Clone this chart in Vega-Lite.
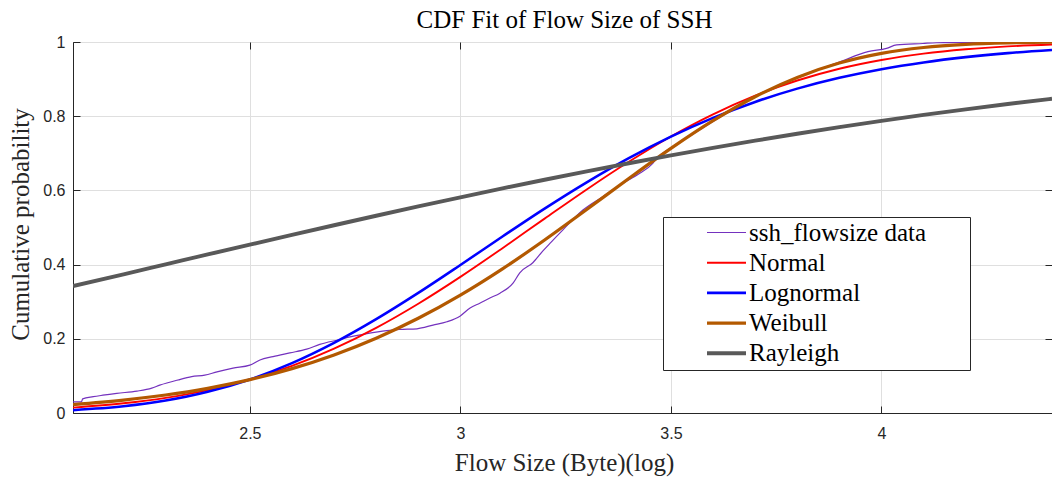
{
  "$schema": "https://vega.github.io/schema/vega-lite/v6.json",
  "width": 979,
  "height": 371,
  "autosize": {"type": "none"},
  "padding": {"left": 73, "top": 42, "right": 0, "bottom": 64},
  "background": "white",
  "config": {"view": {"stroke": "#262626", "strokeWidth": 1}},
  "datasets": {
    "curves": [
      {"x": 2.080, "p": 0.030, "series": "ssh_flowsize data"},
      {"x": 2.100, "p": 0.030, "series": "ssh_flowsize data"},
      {"x": 2.103, "p": 0.038, "series": "ssh_flowsize data"},
      {"x": 2.128, "p": 0.044, "series": "ssh_flowsize data"},
      {"x": 2.151, "p": 0.048, "series": "ssh_flowsize data"},
      {"x": 2.184, "p": 0.053, "series": "ssh_flowsize data"},
      {"x": 2.232, "p": 0.059, "series": "ssh_flowsize data"},
      {"x": 2.267, "p": 0.067, "series": "ssh_flowsize data"},
      {"x": 2.286, "p": 0.075, "series": "ssh_flowsize data"},
      {"x": 2.329, "p": 0.089, "series": "ssh_flowsize data"},
      {"x": 2.362, "p": 0.098, "series": "ssh_flowsize data"},
      {"x": 2.393, "p": 0.102, "series": "ssh_flowsize data"},
      {"x": 2.422, "p": 0.111, "series": "ssh_flowsize data"},
      {"x": 2.460, "p": 0.121, "series": "ssh_flowsize data"},
      {"x": 2.500, "p": 0.129, "series": "ssh_flowsize data"},
      {"x": 2.524, "p": 0.143, "series": "ssh_flowsize data"},
      {"x": 2.555, "p": 0.152, "series": "ssh_flowsize data"},
      {"x": 2.595, "p": 0.162, "series": "ssh_flowsize data"},
      {"x": 2.635, "p": 0.172, "series": "ssh_flowsize data"},
      {"x": 2.666, "p": 0.185, "series": "ssh_flowsize data"},
      {"x": 2.714, "p": 0.198, "series": "ssh_flowsize data"},
      {"x": 2.738, "p": 0.205, "series": "ssh_flowsize data"},
      {"x": 2.778, "p": 0.214, "series": "ssh_flowsize data"},
      {"x": 2.825, "p": 0.222, "series": "ssh_flowsize data"},
      {"x": 2.856, "p": 0.225, "series": "ssh_flowsize data"},
      {"x": 2.897, "p": 0.227, "series": "ssh_flowsize data"},
      {"x": 2.935, "p": 0.237, "series": "ssh_flowsize data"},
      {"x": 2.968, "p": 0.246, "series": "ssh_flowsize data"},
      {"x": 2.999, "p": 0.261, "series": "ssh_flowsize data"},
      {"x": 3.023, "p": 0.283, "series": "ssh_flowsize data"},
      {"x": 3.046, "p": 0.296, "series": "ssh_flowsize data"},
      {"x": 3.070, "p": 0.310, "series": "ssh_flowsize data"},
      {"x": 3.094, "p": 0.323, "series": "ssh_flowsize data"},
      {"x": 3.125, "p": 0.350, "series": "ssh_flowsize data"},
      {"x": 3.141, "p": 0.378, "series": "ssh_flowsize data"},
      {"x": 3.172, "p": 0.405, "series": "ssh_flowsize data"},
      {"x": 3.196, "p": 0.437, "series": "ssh_flowsize data"},
      {"x": 3.215, "p": 0.460, "series": "ssh_flowsize data"},
      {"x": 3.243, "p": 0.493, "series": "ssh_flowsize data"},
      {"x": 3.291, "p": 0.547, "series": "ssh_flowsize data"},
      {"x": 3.338, "p": 0.583, "series": "ssh_flowsize data"},
      {"x": 3.386, "p": 0.619, "series": "ssh_flowsize data"},
      {"x": 3.426, "p": 0.646, "series": "ssh_flowsize data"},
      {"x": 3.457, "p": 0.673, "series": "ssh_flowsize data"},
      {"x": 3.467, "p": 0.687, "series": "ssh_flowsize data"},
      {"x": 3.500, "p": 0.715, "series": "ssh_flowsize data"},
      {"x": 3.550, "p": 0.750, "series": "ssh_flowsize data"},
      {"x": 3.600, "p": 0.786, "series": "ssh_flowsize data"},
      {"x": 3.700, "p": 0.852, "series": "ssh_flowsize data"},
      {"x": 3.800, "p": 0.905, "series": "ssh_flowsize data"},
      {"x": 3.900, "p": 0.946, "series": "ssh_flowsize data"},
      {"x": 3.968, "p": 0.974, "series": "ssh_flowsize data"},
      {"x": 4.012, "p": 0.983, "series": "ssh_flowsize data"},
      {"x": 4.036, "p": 0.992, "series": "ssh_flowsize data"},
      {"x": 4.098, "p": 0.996, "series": "ssh_flowsize data"},
      {"x": 4.131, "p": 0.998, "series": "ssh_flowsize data"},
      {"x": 4.200, "p": 0.999, "series": "ssh_flowsize data"},
      {"x": 4.405, "p": 1.000, "series": "ssh_flowsize data"},

      {"x": 2.08, "p": 0.0146, "series": "Normal"},
      {"x": 2.2, "p": 0.0262, "series": "Normal"},
      {"x": 2.3, "p": 0.0409, "series": "Normal"},
      {"x": 2.4, "p": 0.0618, "series": "Normal"},
      {"x": 2.5, "p": 0.0901, "series": "Normal"},
      {"x": 2.6, "p": 0.1271, "series": "Normal"},
      {"x": 2.7, "p": 0.1736, "series": "Normal"},
      {"x": 2.8, "p": 0.2296, "series": "Normal"},
      {"x": 2.9, "p": 0.2946, "series": "Normal"},
      {"x": 3.0, "p": 0.3669, "series": "Normal"},
      {"x": 3.1, "p": 0.4443, "series": "Normal"},
      {"x": 3.2, "p": 0.5239, "series": "Normal"},
      {"x": 3.3, "p": 0.6026, "series": "Normal"},
      {"x": 3.4, "p": 0.6772, "series": "Normal"},
      {"x": 3.5, "p": 0.7454, "series": "Normal"},
      {"x": 3.6, "p": 0.8051, "series": "Normal"},
      {"x": 3.7, "p": 0.8554, "series": "Normal"},
      {"x": 3.8, "p": 0.8962, "series": "Normal"},
      {"x": 3.9, "p": 0.9279, "series": "Normal"},
      {"x": 4.0, "p": 0.9515, "series": "Normal"},
      {"x": 4.1, "p": 0.9686, "series": "Normal"},
      {"x": 4.2, "p": 0.9803, "series": "Normal"},
      {"x": 4.3, "p": 0.9881, "series": "Normal"},
      {"x": 4.405, "p": 0.9932, "series": "Normal"},

      {"x": 2.08, "p": 0.0076, "series": "Lognormal"},
      {"x": 2.2, "p": 0.0180, "series": "Lognormal"},
      {"x": 2.3, "p": 0.0334, "series": "Lognormal"},
      {"x": 2.4, "p": 0.0571, "series": "Lognormal"},
      {"x": 2.5, "p": 0.0905, "series": "Lognormal"},
      {"x": 2.6, "p": 0.1346, "series": "Lognormal"},
      {"x": 2.7, "p": 0.1892, "series": "Lognormal"},
      {"x": 2.8, "p": 0.2530, "series": "Lognormal"},
      {"x": 2.9, "p": 0.3238, "series": "Lognormal"},
      {"x": 3.0, "p": 0.3990, "series": "Lognormal"},
      {"x": 3.1, "p": 0.4757, "series": "Lognormal"},
      {"x": 3.2, "p": 0.5509, "series": "Lognormal"},
      {"x": 3.3, "p": 0.6217, "series": "Lognormal"},
      {"x": 3.4, "p": 0.6869, "series": "Lognormal"},
      {"x": 3.5, "p": 0.7451, "series": "Lognormal"},
      {"x": 3.6, "p": 0.7956, "series": "Lognormal"},
      {"x": 3.7, "p": 0.8384, "series": "Lognormal"},
      {"x": 3.8, "p": 0.8743, "series": "Lognormal"},
      {"x": 3.9, "p": 0.9034, "series": "Lognormal"},
      {"x": 4.0, "p": 0.9267, "series": "Lognormal"},
      {"x": 4.1, "p": 0.9450, "series": "Lognormal"},
      {"x": 4.2, "p": 0.9592, "series": "Lognormal"},
      {"x": 4.3, "p": 0.9700, "series": "Lognormal"},
      {"x": 4.405, "p": 0.9785, "series": "Lognormal"},

      {"x": 2.08, "p": 0.0227, "series": "Weibull"},
      {"x": 2.2, "p": 0.0347, "series": "Weibull"},
      {"x": 2.3, "p": 0.0485, "series": "Weibull"},
      {"x": 2.4, "p": 0.0666, "series": "Weibull"},
      {"x": 2.5, "p": 0.0899, "series": "Weibull"},
      {"x": 2.6, "p": 0.1196, "series": "Weibull"},
      {"x": 2.7, "p": 0.1566, "series": "Weibull"},
      {"x": 2.8, "p": 0.2016, "series": "Weibull"},
      {"x": 2.9, "p": 0.2553, "series": "Weibull"},
      {"x": 3.0, "p": 0.3177, "series": "Weibull"},
      {"x": 3.1, "p": 0.3885, "series": "Weibull"},
      {"x": 3.2, "p": 0.4663, "series": "Weibull"},
      {"x": 3.3, "p": 0.5485, "series": "Weibull"},
      {"x": 3.4, "p": 0.6321, "series": "Weibull"},
      {"x": 3.5, "p": 0.7133, "series": "Weibull"},
      {"x": 3.6, "p": 0.7880, "series": "Weibull"},
      {"x": 3.7, "p": 0.8525, "series": "Weibull"},
      {"x": 3.8, "p": 0.9046, "series": "Weibull"},
      {"x": 3.9, "p": 0.9432, "series": "Weibull"},
      {"x": 4.0, "p": 0.9693, "series": "Weibull"},
      {"x": 4.1, "p": 0.9852, "series": "Weibull"},
      {"x": 4.2, "p": 0.9937, "series": "Weibull"},
      {"x": 4.3, "p": 0.9977, "series": "Weibull"},
      {"x": 4.405, "p": 0.9993, "series": "Weibull"},

      {"x": 2.08, "p": 0.3420, "series": "Rayleigh"},
      {"x": 2.2, "p": 0.3739, "series": "Rayleigh"},
      {"x": 2.3, "p": 0.4006, "series": "Rayleigh"},
      {"x": 2.4, "p": 0.4273, "series": "Rayleigh"},
      {"x": 2.5, "p": 0.4538, "series": "Rayleigh"},
      {"x": 2.6, "p": 0.4801, "series": "Rayleigh"},
      {"x": 2.7, "p": 0.5061, "series": "Rayleigh"},
      {"x": 2.8, "p": 0.5317, "series": "Rayleigh"},
      {"x": 2.9, "p": 0.5568, "series": "Rayleigh"},
      {"x": 3.0, "p": 0.5814, "series": "Rayleigh"},
      {"x": 3.1, "p": 0.6054, "series": "Rayleigh"},
      {"x": 3.2, "p": 0.6287, "series": "Rayleigh"},
      {"x": 3.3, "p": 0.6514, "series": "Rayleigh"},
      {"x": 3.4, "p": 0.6732, "series": "Rayleigh"},
      {"x": 3.5, "p": 0.6943, "series": "Rayleigh"},
      {"x": 3.6, "p": 0.7146, "series": "Rayleigh"},
      {"x": 3.7, "p": 0.7341, "series": "Rayleigh"},
      {"x": 3.8, "p": 0.7527, "series": "Rayleigh"},
      {"x": 3.9, "p": 0.7705, "series": "Rayleigh"},
      {"x": 4.0, "p": 0.7873, "series": "Rayleigh"},
      {"x": 4.1, "p": 0.8034, "series": "Rayleigh"},
      {"x": 4.2, "p": 0.8185, "series": "Rayleigh"},
      {"x": 4.3, "p": 0.8329, "series": "Rayleigh"},
      {"x": 4.405, "p": 0.8470, "series": "Rayleigh"}
    ]
  },
  "data": {"name": "curves"},
  "resolve": {"axis": {"x": "independent", "y": "independent"}},
  "layer": [
    {
      "mark": {"type": "line", "interpolate": "monotone", "clip": true},
      "encoding": {
        "x": {"field": "x", "type": "quantitative", "scale": {"domain": [2.08, 4.405], "nice": false, "zero": false},
          "axis": {"orient": "bottom", "values": [2.5, 3, 3.5, 4], "format": "~g", "grid": true, "gridColor": "#dfdfdf", "gridWidth": 1,
            "domainColor": "#262626", "tickColor": "#262626", "tickSize": -7, "labelPadding": 19,
            "labelFont": "Liberation Sans", "labelFontSize": 16, "labelColor": "#262626", "labelBaseline": "top",
            "title": "Flow Size (Byte)(log)", "titleFont": "Liberation Serif", "titleFontSize": 25, "titleFontWeight": "normal", "titleColor": "#262626",
            "titleX": 491, "titleY": 57, "titleBaseline": "alphabetic", "titleAnchor": "middle", "titleAlign": "center"}},
        "y": {"field": "p", "type": "quantitative", "scale": {"domain": [0, 1], "nice": false},
          "axis": {"orient": "left", "values": [0, 0.2, 0.4, 0.6, 0.8, 1], "format": "~g", "grid": true, "gridColor": "#dfdfdf", "gridWidth": 1,
            "domainColor": "#262626", "tickColor": "#262626", "tickSize": -7, "labelPadding": 15,
            "labelFont": "Liberation Sans", "labelFontSize": 16, "labelColor": "#262626",
            "title": "Cumulative probability", "titleFont": "Liberation Serif", "titleFontSize": 25, "titleFontWeight": "normal", "titleColor": "#262626",
            "titleX": -45, "titleY": 182, "titleAngle": -90, "titleBaseline": "alphabetic", "titleAlign": "center"}},
        "color": {"field": "series", "type": "nominal",
          "scale": {"domain": ["ssh_flowsize data", "Normal", "Lognormal", "Weibull", "Rayleigh"], "range": ["#7432BE", "#FF0000", "#0000FF", "#B35900", "#595959"]},
          "legend": {"orient": "none", "legendX": 590, "legendY": 175, "title": null, "labelFont": "Liberation Serif", "labelFontSize": 25, "labelColor": "#000000", "labelLimit": 500,
            "symbolType": "M -1.95 0 L 1.95 0 M 23.2 0 L 23.2 0", "symbolSize": 400, "symbolOffset": 48, "labelOffset": 10, "padding": 3, "rowPadding": 4.2,
            "strokeColor": "#262626", "fillColor": "white"}},
        "strokeWidth": {"field": "series", "type": "ordinal",
          "scale": {"domain": ["ssh_flowsize data", "Normal", "Lognormal", "Weibull", "Rayleigh"], "range": [1.2, 3.9, 3.9, 3.9, 3.9]},
          "legend": {"orient": "none", "legendX": 590, "legendY": 175, "title": null, "labelFont": "Liberation Serif", "labelFontSize": 25, "labelColor": "#000000", "labelLimit": 500,
            "symbolType": "M -1.95 0 L 1.95 0 M 23.2 0 L 23.2 0", "symbolSize": 400, "symbolOffset": 48, "labelOffset": 10, "padding": 3, "rowPadding": 4.2,
            "strokeColor": "#262626", "fillColor": "white"}}
      }
    },
    {
      "mark": {"type": "point", "opacity": 0},
      "encoding": {
        "x": {"field": "x", "type": "quantitative",
          "axis": {"orient": "top", "values": [2.5, 3, 3.5, 4], "labels": false, "grid": false, "domain": false, "tickColor": "#262626", "tickSize": -7,
            "title": "CDF Fit of Flow Size of SSH", "titleFont": "Liberation Serif", "titleFontSize": 25, "titleFontWeight": "normal", "titleColor": "#000000",
            "titleX": 491, "titleY": -15, "titleBaseline": "alphabetic", "titleAnchor": "middle", "titleAlign": "center"}},
        "y": {"field": "p", "type": "quantitative",
          "axis": {"orient": "right", "values": [0, 0.2, 0.4, 0.6, 0.8, 1], "labels": false, "grid": false, "domain": false, "tickColor": "#262626", "tickSize": -7, "title": null}}
      }
    }
  ]
}
